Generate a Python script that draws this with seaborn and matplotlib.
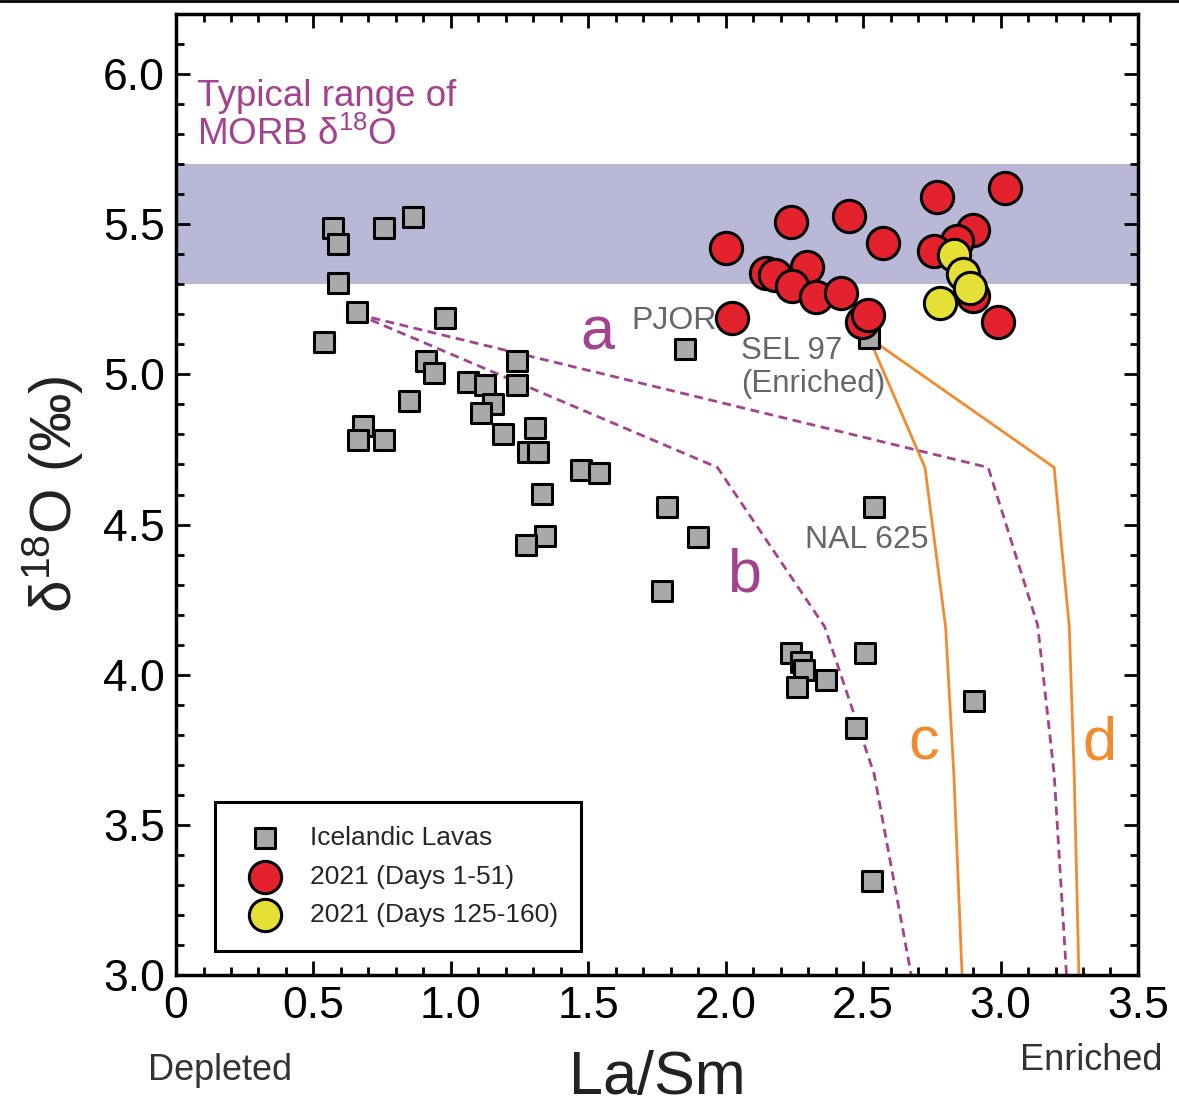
import numpy as np
import pandas as pd
import seaborn as sns
import matplotlib.pyplot as plt
from matplotlib.ticker import MultipleLocator
from matplotlib.lines import Line2D

# Icelandic lavas (grey squares)
lava_lasm = [0.570, 0.588, 0.755, 0.864, 0.588, 0.657, 0.537, 0.977, 0.908, 0.940,
             1.242, 1.064, 1.126, 1.242, 0.846, 0.679, 0.661, 0.755, 1.155, 1.108,
             1.191, 1.307, 1.282, 1.318, 1.474, 1.540, 1.333, 1.343, 1.274, 1.786,
             1.899, 1.768, 2.236, 2.275, 2.286, 2.258, 2.366, 2.505, 2.473, 2.902,
             2.531, 2.538, 1.851, 2.521]
lava_d18o = [5.487, 5.433, 5.487, 5.523, 5.303, 5.207, 5.107, 5.187, 5.043, 5.003,
             5.043, 4.973, 4.963, 4.963, 4.910, 4.827, 4.783, 4.783, 4.903, 4.873,
             4.803, 4.823, 4.743, 4.743, 4.683, 4.673, 4.603, 4.463, 4.433, 4.560,
             4.460, 4.280, 4.072, 4.041, 4.015, 3.960, 3.983, 4.072, 3.822, 3.912,
             3.313, 4.560, 5.083, 5.122]

# 2021 eruption, days 1-51 (red)
early_lasm = [2.000, 2.237, 2.447, 2.573, 2.769, 3.018, 2.901, 2.843, 2.758, 2.146,
              2.179, 2.295, 2.243, 2.327, 2.421, 2.497, 2.518, 2.023, 2.901, 2.992]
early_d18o = [5.420, 5.509, 5.528, 5.437, 5.591, 5.622, 5.480, 5.444, 5.411, 5.339,
              5.330, 5.356, 5.294, 5.258, 5.272, 5.174, 5.197, 5.187, 5.261, 5.174]

# 2021 eruption, days 125-160 (yellow)
late_lasm = [2.832, 2.862, 2.888, 2.781]
late_d18o = [5.397, 5.333, 5.289, 5.237]

# mixing / assimilation curves
curve_a_x = [0.66, 2.955, 3.135, 3.195, 3.24]
curve_a_y = [5.20, 4.69, 4.165, 3.67, 3.0]
curve_b_x = [0.66, 1.97, 2.36, 2.54, 2.675]
curve_b_y = [5.20, 4.69, 4.16, 3.67, 3.0]
curve_c_x = [2.521, 2.725, 2.80, 2.83, 2.86]
curve_c_y = [5.122, 4.69, 4.16, 3.67, 3.0]
curve_d_x = [2.521, 3.195, 3.25, 3.268, 3.285]
curve_d_y = [5.122, 4.69, 4.16, 3.67, 3.0]

purple = "#a3428e"
orange = "#f28a2e"
grey_txt = "#63676b"

sns.set_style("ticks")
plt.rcParams['font.family'] = ['Liberation Sans', 'DejaVu Sans']
plt.rcParams['mathtext.default'] = 'regular'

fig = plt.figure(figsize=(11.79, 11.09), dpi=100)
ax = fig.add_axes([0.1493, 0.1208, 0.8159, 0.8666])

# MORB band
ax.axhspan(5.3, 5.7, color="#b9b9d7", lw=0, zorder=0)

# curves
for cx, cy in [(curve_a_x, curve_a_y), (curve_b_x, curve_b_y)]:
    sns.lineplot(x=cx, y=cy, sort=False, estimator=None, color=purple, lw=2,
                 linestyle=(0, (3.2, 2.0)), ax=ax, zorder=2, legend=False)
for cx, cy in [(curve_c_x, curve_c_y), (curve_d_x, curve_d_y)]:
    sns.lineplot(x=cx, y=cy, sort=False, estimator=None, color=orange, lw=2,
                 ax=ax, zorder=2, legend=False)

# points
sns.scatterplot(x=lava_lasm, y=lava_d18o, marker='s', s=190, color='#a7a9ab',
                edgecolor='black', linewidth=2.2, zorder=4, label='Icelandic Lavas', ax=ax)
sns.scatterplot(x=early_lasm, y=early_d18o, marker='o', s=540, color='#e3222d',
                edgecolor='black', linewidth=2.2, zorder=5, label='2021 (Days 1-51)', ax=ax)
sns.scatterplot(x=late_lasm, y=late_d18o, marker='o', s=540, color='#e6e036',
                edgecolor='black', linewidth=2.2, zorder=6, label='2021 (Days 125-160)', ax=ax)

# annotations
ax.text(0.076, 5.86, "Typical range of\nMORB δ$^{18}$O", color=purple, fontsize=26.5,
        ha='left', va='center', linespacing=1.1)
ax.text(1.532, 5.133, "a", color=purple, fontsize=44, ha='center', va='center')
ax.text(2.066, 4.33, "b", color=purple, fontsize=44, ha='center', va='center')
ax.text(2.72, 3.77, "c", color=orange, fontsize=44, ha='center', va='center')
ax.text(3.36, 3.77, "d", color=orange, fontsize=44, ha='center', va='center')
ax.text(1.656, 5.177, "PJOR", color=grey_txt, fontsize=23, ha='left', va='center')
ax.text(2.055, 5.023, "SEL 97\n(Enriched)", color=grey_txt, fontsize=22.5,
        ha='left', va='center', linespacing=1.1)
ax.text(2.288, 4.45, "NAL 625", color=grey_txt, fontsize=23, ha='left', va='center')

# axes
ax.set_xlim(0, 3.5)
ax.set_ylim(3.0, 6.2)
ax.xaxis.set_minor_locator(MultipleLocator(0.1))
ax.yaxis.set_minor_locator(MultipleLocator(0.1))
ax.set_xticks([0, 0.5, 1.0, 1.5, 2.0, 2.5, 3.0, 3.5])
ax.set_xticklabels(['0', '0.5', '1.0', '1.5', '2.0', '2.5', '3.0', '3.5'])
ax.set_yticks([3.0, 3.5, 4.0, 4.5, 5.0, 5.5, 6.0])
ax.set_yticklabels(['3.0', '3.5', '4.0', '4.5', '5.0', '5.5', '6.0'])
ax.tick_params(which='both', direction='in', top=True, right=True, width=2, colors='black')
ax.tick_params(which='major', length=10, labelsize=32, pad=8)
ax.tick_params(which='minor', length=6)
for sp in ax.spines.values():
    sp.set_linewidth(2.5)
    sp.set_color('black')

ax.set_xlabel("")
ax.set_ylabel("δ$^{18}$O (‰)", fontsize=42, color='#222222', labelpad=12)
# x label sits close to the bottom edge, as in the original
fig.text(0.5575, 0.0135, "La/Sm", fontsize=44, color='#222222', ha='center', va='baseline')

fig.text(0.1255, 0.035, "Depleted", fontsize=26, color='#333333', ha='left', va='center')
fig.text(0.865, 0.044, "Enriched", fontsize=26, color='#333333', ha='left', va='center')

leg = ax.legend(loc='lower left', bbox_to_anchor=(0.04, 0.025), frameon=True,
                fancybox=False, edgecolor='black', fontsize=19, borderpad=0.9,
                labelspacing=0.55, handletextpad=0.7, borderaxespad=0)
leg.get_frame().set_linewidth(2.2)
leg.get_frame().set_alpha(1)

fig.add_artist(Line2D([0, 1], [0.999, 0.999], transform=fig.transFigure, color='black', lw=2))

fig.savefig("out.png", dpi=100)
